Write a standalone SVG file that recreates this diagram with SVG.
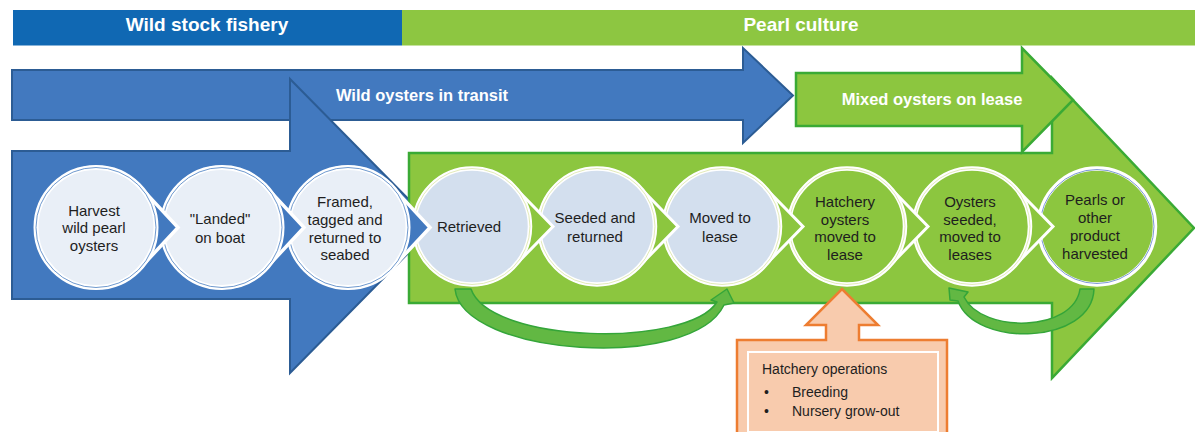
<svg xmlns="http://www.w3.org/2000/svg" width="1195" height="432" viewBox="0 0 1195 432">
<style>
text{font-family:"Liberation Sans",Arial,sans-serif}
.title{font-size:19px;font-weight:bold;fill:#fff;text-anchor:middle}
.alabel{font-size:16.5px;font-weight:bold;fill:#fff;text-anchor:middle}
.nt{font-size:15px;fill:#1e1e1e;text-anchor:middle}
.ht{font-size:14px;fill:#1e1e1e}
.barrow{fill:#4279bf;stroke:#2c5c94;stroke-width:2;stroke-linejoin:miter}
.garrow{fill:#8cc63f;stroke:#3aaa35;stroke-width:2.5;stroke-linejoin:miter}
.tearB{fill:#4279bf;stroke:#fff;stroke-width:3.5}
.tearG{fill:#8cc63f;stroke:#fff;stroke-width:3}
.cB{fill:#e9eff7;stroke:#fff;stroke-width:5}
.cBl{fill:none;stroke:#4a7fc1;stroke-width:0.8}
.cL{fill:#d3dfee;stroke:#fff;stroke-width:4.5}
.cG{fill:#8cc63f;stroke:#fff;stroke-width:4.5}
.cGl{fill:none;stroke:#dfe8b0;stroke-width:0.9}
.cPl{fill:none;stroke:#6f8fd0;stroke-width:0.9}
.curve{fill:#62b843;stroke:#34a539;stroke-width:1.5;stroke-linejoin:round}
.callout{fill:#f8cbad;stroke:#ed7d31;stroke-width:2.5}
</style>
<defs>
<path id="tearL" d="M43.9,-40.9 L82,0 L43.9,40.9 A60,60 0 1 1 43.9,-40.9 Z"/>
<path id="tearR" d="M41.5,-40.5 L81,0 L41.5,40.5 A58,58 0 1 1 41.5,-40.5 Z"/>
</defs>
<rect width="1195" height="432" fill="#fff"/>

<g id="bar-wild">
<rect x="13" y="10" width="389" height="35.5" fill="#1068b3"/>
<text class="title" x="207" y="31">Wild stock fishery</text>
</g>
<g id="bar-pearl">
<rect x="402" y="10" width="793" height="35.5" fill="#8dc641"/>
<text class="title" x="801" y="31">Pearl culture</text>
</g>

<g id="arrow-transit">
<path class="barrow" d="M12,70 L743,70 L743,48 L793,95.5 L743,143 L743,120 L12,120 Z"/>
<text class="alabel" x="422" y="101">Wild oysters in transit</text>
</g>
<g id="arrow-wild">
<path class="barrow" d="M12,151 L290,151 L290,79 L435,226 L290,373 L290,299 L12,299 Z"/>
</g>
<g id="arrow-culture">
<path class="garrow" d="M409,153 L1052,153 L1052,78 L1194,228 L1052,378 L1052,303 L409,303 Z"/>
</g>
<g id="arrow-mixed">
<path class="garrow" d="M796,73 L1022,73 L1022,48 L1073,100 L1022,152 L1022,126 L796,126 Z"/>
<text class="alabel" x="932" y="105">Mixed oysters on lease</text>
</g>

<g id="node-pearls" transform="translate(1097,226.5)">
<circle class="cG" r="58"/><circle class="cPl" r="57"/>
<text class="nt" x="-2" y="-22">Pearls or</text>
<text class="nt" x="-2" y="-4">other</text>
<text class="nt" x="-2" y="14">product</text>
<text class="nt" x="-2" y="32">harvested</text>
</g>
<g id="node-seeded-leases" transform="translate(972,226.5)">
<use href="#tearR" class="tearG"/>
<circle class="cG" r="58"/><circle class="cGl" r="58"/>
<text class="nt" x="-2" y="-20">Oysters</text>
<text class="nt" x="-2" y="-2">seeded,</text>
<text class="nt" x="-2" y="15.5">moved to</text>
<text class="nt" x="-2" y="33">leases</text>
</g>
<g id="node-hatchery" transform="translate(847,226.5)">
<use href="#tearR" class="tearG"/>
<circle class="cG" r="58"/><circle class="cGl" r="58"/>
<text class="nt" x="-2" y="-20">Hatchery</text>
<text class="nt" x="-2" y="-2">oysters</text>
<text class="nt" x="-2" y="15.5">moved to</text>
<text class="nt" x="-2" y="33">lease</text>
</g>
<g id="node-moved" transform="translate(722,226.5)">
<use href="#tearR" class="tearG"/>
<circle class="cL" r="58"/><circle class="cGl" r="58"/>
<text class="nt" x="-2" y="-4">Moved to</text>
<text class="nt" x="-2" y="15">lease</text>
</g>
<g id="node-seeded" transform="translate(597,226.5)">
<use href="#tearR" class="tearG"/>
<circle class="cL" r="58"/><circle class="cGl" r="58"/>
<text class="nt" x="-2" y="-4">Seeded and</text>
<text class="nt" x="-2" y="15">returned</text>
</g>
<g id="node-retrieved" transform="translate(472,226.5)">
<use href="#tearR" class="tearG"/>
<circle class="cL" r="58"/><circle class="cGl" r="58"/>
<text class="nt" x="-3" y="5.5">Retrieved</text>
</g>

<g id="node-framed" transform="translate(348,227.5)">
<use href="#tearL" class="tearB"/>
<circle class="cB" r="60"/><circle class="cBl" r="60"/>
<text class="nt" x="-3" y="-21">Framed,</text>
<text class="nt" x="-3" y="-3">tagged and</text>
<text class="nt" x="-3" y="15">returned to</text>
<text class="nt" x="-3" y="32">seabed</text>
</g>
<g id="node-landed" transform="translate(222,227.5)">
<use href="#tearL" class="tearB"/>
<circle class="cB" r="60"/><circle class="cBl" r="60"/>
<text class="nt" x="-2" y="-4">"Landed"</text>
<text class="nt" x="-2" y="15">on boat</text>
</g>
<g id="node-harvest" transform="translate(96,227.5)">
<use href="#tearL" class="tearB"/>
<circle class="cB" r="60"/><circle class="cBl" r="60"/>
<text class="nt" x="-2" y="-12">Harvest</text>
<text class="nt" x="-2" y="5.5">wild pearl</text>
<text class="nt" x="-2" y="23">oysters</text>
</g>

<g id="connectors">
<path class="curve" d="M455,289 C462,356 692,372 724,305 L734,303 L727,289 L711,300 L717,302 C688,348 490,344 471,289 Z"/>
<path class="curve" d="M1094,289 C1092,345 975,348 958,301 L950,300 L949,288 L968,292 L964,297 C982,334 1074,332 1080,289 Z"/>
</g>

<g id="hatchery-ops">
<path class="callout" d="M737,340 L826,340 L826,325 L806,325 L842,289 L878,325 L859,325 L859,340 L947,340 L947,440 L737,440 Z"/>
<rect x="748" y="352" width="190" height="80" fill="none" stroke="#fff" stroke-width="2"/>
<text class="ht" x="762" y="374">Hatchery operations</text>
<text class="ht" x="764" y="397">•</text>
<text class="ht" x="792" y="397">Breeding</text>
<text class="ht" x="764" y="416">•</text>
<text class="ht" x="792" y="416">Nursery grow-out</text>
</g>
</svg>
